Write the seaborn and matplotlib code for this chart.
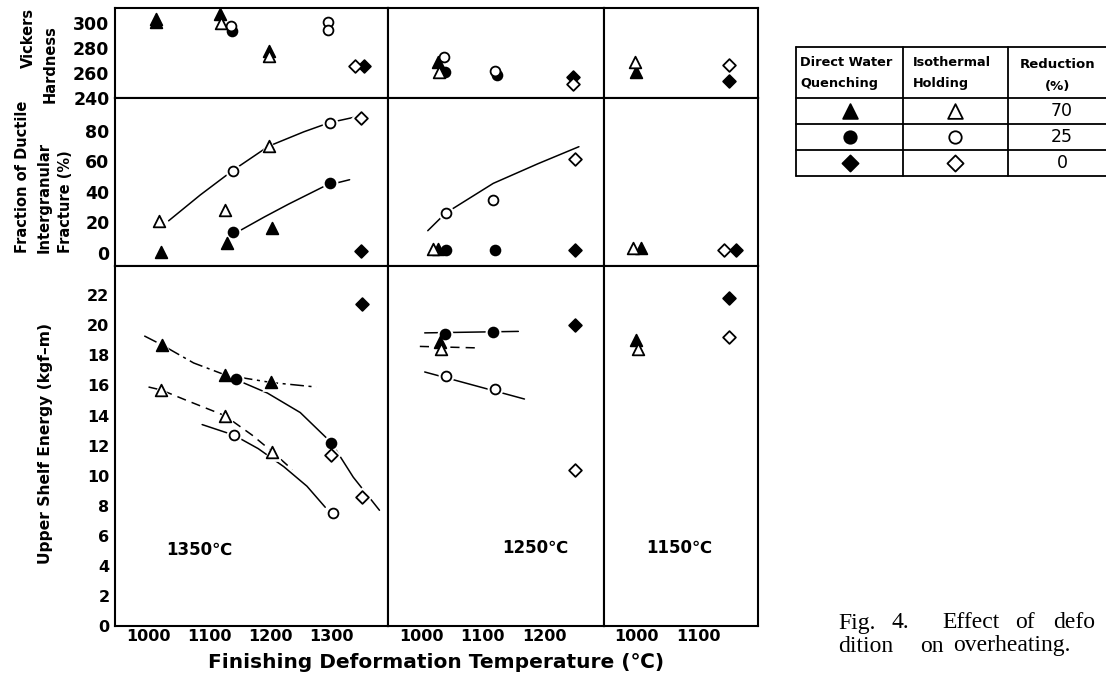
"""
Effect of deformation condition on overheating (Fig. 4) - seaborn recreation.

Three property rows (Vickers hardness, fraction of ductile intergranular
fracture, upper shelf energy) against finishing deformation temperature,
for reheating temperatures of 1350, 1250 and 1150 C.
"""
import matplotlib
matplotlib.use("Agg")
import matplotlib.pyplot as plt
import seaborn as sns
import pandas as pd

# ---------------------------------------------------------------------------
# Data
# kinds: tri = 70 % reduction, cir = 25 %, dia = 0 %
#        _f = direct water quenching (filled), _o = isothermal holding (open)
# ---------------------------------------------------------------------------
COLUMNS = [1350, 1250, 1150]          # reheating temperature of each column
ROWS = ["hv", "fdi", "use"]

hv_1350 = [("tri_f", 1013, 303.5), ("tri_f", 1013, 301), ("tri_f", 1118, 307),
           ("cir_f", 1137, 294), ("tri_f", 1197, 278), ("dia_f", 1354, 266),
           ("tri_o", 1119, 300), ("cir_o", 1136, 298), ("tri_o", 1197, 274),
           ("cir_o", 1295, 300.5), ("cir_o", 1295, 294.5), ("dia_o", 1339, 266)]
hv_1250 = [("tri_f", 1027, 268.5), ("cir_f", 1038, 260.5), ("cir_f", 1123, 258.5),
           ("dia_f", 1247, 257), ("cir_o", 1037, 272.5), ("tri_o", 1029, 260.5),
           ("cir_o", 1120, 261.5), ("dia_o", 1247, 251)]
hv_1150 = [("tri_f", 999, 261), ("dia_f", 1149, 254),
           ("tri_o", 998, 268.5), ("dia_o", 1149, 266.5)]

fdi_1350 = [("tri_f", 1020, 0.5), ("tri_f", 1129, 6.6), ("cir_f", 1138, 13.4),
            ("tri_f", 1203, 16.5), ("cir_f", 1298, 46), ("dia_f", 1348, 1.3),
            ("tri_o", 1017, 21), ("tri_o", 1125, 28), ("cir_o", 1138, 53.8),
            ("tri_o", 1197, 70.4), ("cir_o", 1297, 85.5), ("dia_o", 1349, 88.8)]
fdi_1250 = [("tri_f", 1027, 2.5), ("cir_f", 1040, 2), ("cir_f", 1120, 1.5),
            ("dia_f", 1250, 2), ("tri_o", 1018, 2.5), ("cir_o", 1039, 26),
            ("cir_o", 1117, 34.7), ("dia_o", 1250, 61.4)]
fdi_1150 = [("tri_f", 1008, 3), ("dia_f", 1160, 2),
            ("tri_o", 994, 3), ("dia_o", 1141, 2)]

use_1350 = [("tri_f", 1022, 18.7), ("tri_f", 1126, 16.7), ("cir_f", 1143, 16.4),
            ("tri_f", 1201, 16.2), ("cir_f", 1300, 12.2), ("dia_f", 1350, 21.4),
            ("tri_o", 1021, 15.7), ("tri_o", 1125, 14.0), ("cir_o", 1140, 12.7),
            ("tri_o", 1203, 11.6), ("dia_o", 1300, 11.4), ("cir_o", 1302, 7.5),
            ("dia_o", 1350, 8.6)]
use_1250 = [("cir_f", 1038, 19.45), ("cir_f", 1116, 19.55), ("tri_f", 1030, 18.9),
            ("dia_f", 1250, 20.0), ("tri_o", 1032, 18.4), ("cir_o", 1039, 16.6),
            ("cir_o", 1120, 15.8), ("dia_o", 1250, 10.4)]
use_1150 = [("tri_f", 1000, 19.0), ("dia_f", 1150, 21.8),
            ("tri_o", 1002, 18.4), ("dia_o", 1150, 19.2)]

POINTS = {("hv", 1350): hv_1350, ("hv", 1250): hv_1250, ("hv", 1150): hv_1150,
          ("fdi", 1350): fdi_1350, ("fdi", 1250): fdi_1250, ("fdi", 1150): fdi_1150,
          ("use", 1350): use_1350, ("use", 1250): use_1250, ("use", 1150): use_1150}

# hand-drawn trend curves: (temperatures, values)
fdi_1350_open = ([1033, 1085, 1138, 1197, 1255, 1297, 1337], [21, 38, 54, 70, 79.5, 85.5, 89])
fdi_1350_cir_f = ([1152, 1190, 1230, 1290, 1330], [15, 23.5, 32, 44, 48])
fdi_1250_open = ([1010, 1039, 1117, 1190, 1257], [14.5, 26, 45.6, 58.5, 69.7])
use_1350_tri_f = ([993, 1022, 1074, 1126, 1201, 1275], [19.3, 18.7, 17.5, 16.7, 16.2, 15.9])
use_1350_cir_f = ([1143, 1195, 1249, 1300, 1336, 1379], [16.4, 15.5, 14.2, 12.2, 9.9, 7.7])
use_1350_tri_o = ([1000, 1021, 1063, 1125, 1170, 1203, 1236], [15.9, 15.7, 15.0, 14.0, 12.7, 11.6, 10.4])
use_1350_cir_o = ([1088, 1140, 1180, 1222, 1260, 1290], [13.4, 12.7, 11.8, 10.6, 9.3, 7.9])
use_1250_cir_f = ([1005, 1158], [19.5, 19.6])
use_1250_tri = ([997, 1093], [18.6, 18.5])
use_1250_cir_o = ([1005, 1168], [16.9, 15.1])

CURVES = {("fdi", 1350): [(fdi_1350_open, "solid"), (fdi_1350_cir_f, "solid")],
          ("fdi", 1250): [(fdi_1250_open, "solid")],
          ("use", 1350): [(use_1350_tri_f, "dashdot"), (use_1350_cir_f, "solid"),
                          (use_1350_tri_o, "dashed"), (use_1350_cir_o, "solid")],
          ("use", 1250): [(use_1250_cir_f, "solid"), (use_1250_tri, "dashed"),
                          (use_1250_cir_o, "solid")]}

PANEL_LABELS = {1350: (1084, 5.05, "1350℃"), 1250: (1186, 5.2, "1250℃"), 1150: (1069, 5.2, "1150℃")}

LEGEND_ROWS = [("tri_f", "tri_o", "70"), ("cir_f", "cir_o", "25"), ("dia_f", "dia_o", "0")]

# ---------------------------------------------------------------------------
# Layout / style
# ---------------------------------------------------------------------------
W, H = 1106, 682
COL_EDGES = [115, 388, 604, 758]
ROW_EDGES = [8, 98, 266, 626]
XLIMS = {1350: (945, 1393), 1250: (945, 1298), 1150: (948, 1196)}
XTICKS = {1350: [1000, 1100, 1200, 1300], 1250: [1000, 1100, 1200], 1150: [1000, 1100]}
YLIMS = {"hv": (240, 312), "fdi": (-8.7, 101.7), "use": (0, 23.95)}
YTICKS = {"hv": [240, 260, 280, 300], "fdi": [0, 20, 40, 60, 80], "use": list(range(0, 23, 2))}
YTICK_SIZE = {"hv": 12.5, "fdi": 12.5, "use": 11.5}

MARKER = {"tri": "^", "cir": "o", "dia": "D"}
SIZE = {"tri": 70, "cir": 50, "dia": 42}
LINESTYLE = {"solid": "-", "dashed": (0, (6, 4)), "dashdot": (0, (9, 3, 2, 3))}

sns.set_style("white")
plt.rcParams["font.family"] = ["DejaVu Sans", "Noto Sans CJK JP"]
plt.rcParams["font.weight"] = "bold"
plt.rcParams["axes.linewidth"] = 1.5
for key in ["text.color", "axes.labelcolor", "xtick.color", "ytick.color", "axes.edgecolor"]:
    plt.rcParams[key] = "black"


def px_axes(fig, x0, y0, x1, y1):
    return fig.add_axes([x0 / W, 1 - y1 / H, (x1 - x0) / W, (y1 - y0) / H])


def draw_marker(ax, kind, x, y, scale=1.0, zorder=3):
    shape, fill = kind.split("_")
    sns.scatterplot(x=x, y=y, ax=ax, marker=MARKER[shape], s=SIZE[shape] * scale,
                    color="black" if fill == "f" else "white", edgecolor="black",
                    linewidth=1.3, zorder=zorder, legend=False, clip_on=False)


fig = plt.figure(figsize=(W / 100, H / 100), dpi=100)

for r, row in enumerate(ROWS):
    for c, col in enumerate(COLUMNS):
        ax = px_axes(fig, COL_EDGES[c], ROW_EDGES[r], COL_EDGES[c + 1], ROW_EDGES[r + 1])
        df = pd.DataFrame(POINTS[(row, col)], columns=["kind", "T", "v"])

        # white halo under every point so the trend curves stop short of it
        for shape in MARKER:
            sub = df[df["kind"].str.startswith(shape)]
            if len(sub):
                sns.scatterplot(data=sub, x="T", y="v", ax=ax, marker=MARKER[shape],
                                s=SIZE[shape] * 2.6, color="white", linewidth=0,
                                zorder=2.4, legend=False)

        for (ts, vs), ls in CURVES.get((row, col), []):
            sns.lineplot(x=ts, y=vs, ax=ax, color="black", lw=1.1,
                         linestyle=LINESTYLE[ls], sort=False, estimator=None, zorder=2)

        for kind, t, v in POINTS[(row, col)]:
            draw_marker(ax, kind, [t], [v])

        ax.set_xlim(*XLIMS[col])
        ax.set_ylim(*YLIMS[row])
        ax.set_xlabel("")
        ax.set_ylabel("")
        for sp in ax.spines.values():
            sp.set_linewidth(1.5)
            sp.set_color("black")
        ax.tick_params(direction="in", length=6, width=1.2, colors="black", pad=4)

        if c == 0:
            ax.set_yticks(YTICKS[row])
            ax.tick_params(axis="y", labelsize=YTICK_SIZE[row])
        else:
            ax.set_yticks([])
        if row == "use":
            ax.set_xticks(XTICKS[col])
            ax.tick_params(axis="x", labelsize=11.5, pad=2)
            lx, ly, txt = PANEL_LABELS[col]
            ax.text(lx, ly, txt, ha="center", va="center", fontsize=12)
        else:
            ax.set_xticks([])

# axis titles
fig.text(436 / W, 1 - 663 / H, "Finishing Deformation Temperature (℃)",
         ha="center", va="center", fontsize=14.5)
for txt, x, y, va in [("Vickers", 28, 38, "center"), ("Hardness", 50, 64, "center"),
                      ("Fraction of Ductile", 23, 253, "bottom"),
                      ("Intergranular", 44, 253, "bottom"),
                      ("Fracture (%)", 65, 253, "bottom")]:
    fig.text(x / W, 1 - y / H, txt, rotation=90, ha="center", va=va, fontsize=10.5)
fig.text(46 / W, 1 - 443 / H, "Upper Shelf Energy (kgf–m)", rotation=90,
         ha="center", va="center", fontsize=11.2)

# legend table (cut by the right edge of the page, as in the scan)
tab = px_axes(fig, 796, 46.7, 1106, 175.7)
tab.set_xlim(796, 1106)
tab.set_ylim(175.7, 46.7)
tab.axis("off")
for y in [46.7, 98.3, 124.3, 150, 175.7]:
    tab.plot([796, 1106], [y, y], color="black", lw=1.3, clip_on=False)
for x in [796, 903, 1008]:
    tab.plot([x, x], [46.7, 175.7], color="black", lw=1.3, clip_on=False)
for txt, x, y in [("Direct Water", 800, 63), ("Quenching", 800, 84),
                  ("Isothermal", 913, 63), ("Holding", 913, 84)]:
    tab.text(x, y, txt, ha="left", va="center", fontsize=9.3)
tab.text(1058, 65, "Reduction", ha="center", va="center", fontsize=9.5)
tab.text(1058, 87, "(%)", ha="center", va="center", fontsize=9.5)
for i, (filled, opened, red) in enumerate(LEGEND_ROWS):
    yc = [111.3, 137, 163][i]
    draw_marker(tab, filled, [850], [yc], scale=1.6)
    draw_marker(tab, opened, [955], [yc], scale=1.6)
    tab.text(1062, yc, red, ha="center", va="center", fontsize=12.5, fontweight="normal")

# caption (serif, wide letter spacing, cut at the right margin)
for word, x, y in [("Fig.", 838, 623), ("4.", 892, 623), ("Effect", 942, 623),
                   ("of", 1015, 623), ("defo", 1053, 623),
                   ("dition", 838, 646), ("on", 920, 646), ("overheating.", 953, 646)]:
    fig.text(x / W, 1 - y / H, word, ha="left", va="center", fontsize=17,
             family=["Liberation Serif", "DejaVu Serif"], fontweight="normal")

fig.savefig("out.png", dpi=100)
